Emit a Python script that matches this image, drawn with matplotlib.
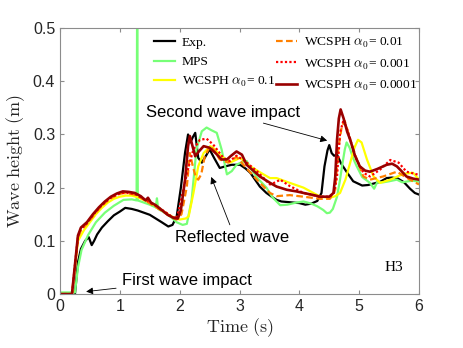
import matplotlib
matplotlib.use("Agg")
import matplotlib.pyplot as plt

plt.rcParams['mathtext.fontset'] = 'cm'

# Exp.
t_exp = [0.25, 0.3, 0.35, 0.42, 0.48, 0.53, 0.57, 0.62, 0.7, 0.8, 0.9, 1.0, 1.09, 1.2, 1.3, 1.4, 1.5, 1.6, 1.7, 1.81,
         1.88, 1.95, 2.02, 2.09, 2.14, 2.18, 2.22, 2.26, 2.31, 2.37, 2.44, 2.5, 2.58, 2.67, 2.76, 2.87, 3.01, 3.1,
         3.18, 3.26, 3.34, 3.45, 3.55, 3.62, 3.7, 3.8, 3.9, 4.0, 4.1, 4.2, 4.3, 4.37, 4.42, 4.47, 4.5, 4.54, 4.58,
         4.63, 4.7, 4.8, 4.9, 5.05, 5.15, 5.25, 5.35, 5.46, 5.55, 5.65, 5.75, 5.85, 5.93, 6.0]
h_exp = [0.0, 0.06, 0.085, 0.1, 0.107, 0.092, 0.1, 0.112, 0.125, 0.137, 0.148, 0.155, 0.162, 0.16, 0.157, 0.153,
         0.149, 0.142, 0.135, 0.127, 0.13, 0.146, 0.2, 0.266, 0.3, 0.285, 0.295, 0.303, 0.256, 0.247, 0.26, 0.272,
         0.255, 0.237, 0.24, 0.243, 0.243, 0.236, 0.228, 0.215, 0.202, 0.19, 0.182, 0.177, 0.174, 0.173, 0.172,
         0.171, 0.168, 0.17, 0.175, 0.19, 0.24, 0.27, 0.28, 0.265, 0.26, 0.262, 0.245, 0.228, 0.212, 0.204, 0.205,
         0.208, 0.211, 0.218, 0.219, 0.217, 0.21, 0.198, 0.19, 0.187]

# MPS
t_mps = [0, 0.25, 0.3, 0.36, 0.47, 0.6, 0.75, 0.9, 1.06, 1.2, 1.28, 1.29, 1.3, 1.4, 1.5, 1.6, 1.62, 1.64, 1.75,
         1.85, 1.95, 2.05, 2.12, 2.2, 2.28, 2.37, 2.45, 2.53, 2.62, 2.7, 2.79, 2.87, 2.95, 3.04, 3.12, 3.2, 3.3,
         3.45, 3.55, 3.68, 3.8, 3.95, 4.07, 4.2, 4.3, 4.4, 4.46, 4.51, 4.56, 4.63, 4.68, 4.72, 4.76, 4.79, 4.84,
         4.9, 4.96, 5.05, 5.18, 5.25, 5.3, 5.4, 5.5, 5.63, 5.72, 5.82, 5.9, 6.0]
h_mps = [0.003, 0.003, 0.05, 0.083, 0.111, 0.135, 0.153, 0.166, 0.177, 0.178, 0.176, 0.6, 0.176, 0.172, 0.168,
         0.163, 0.18, 0.16, 0.153, 0.145, 0.135, 0.13, 0.132, 0.177, 0.272, 0.306, 0.313, 0.308, 0.303, 0.272,
         0.225, 0.231, 0.243, 0.248, 0.25, 0.234, 0.218, 0.2, 0.182, 0.167, 0.168, 0.172, 0.174, 0.17, 0.165, 0.158,
         0.152, 0.153, 0.16, 0.183, 0.215, 0.245, 0.272, 0.285, 0.275, 0.255, 0.24, 0.22, 0.209, 0.198, 0.21,
         0.21, 0.212, 0.215, 0.21, 0.212, 0.213, 0.211]

# WCSPH alpha0 = 0.1
t_a1 = [0, 0.2, 0.25, 0.3, 0.4, 0.5, 0.6, 0.7, 0.8, 0.9, 1.0, 1.1, 1.2, 1.3, 1.4, 1.5, 1.6, 1.7, 1.8, 1.9, 2.0,
        2.1, 2.15, 2.23, 2.31, 2.4, 2.51, 2.56, 2.67, 2.84, 3.01, 3.18, 3.4, 3.51, 3.62, 3.84, 4.07, 4.35, 4.51,
        4.6, 4.68, 4.77, 4.85, 4.92, 4.98, 5.04, 5.13, 5.24, 5.35, 5.52, 5.74, 5.9, 6.0]
h_a1 = [0, 0, 0.05, 0.1, 0.12, 0.135, 0.15, 0.162, 0.172, 0.179, 0.183, 0.185, 0.185, 0.182, 0.177, 0.172,
        0.166, 0.158, 0.15, 0.144, 0.14, 0.142, 0.146, 0.19, 0.24, 0.265, 0.278, 0.275, 0.262, 0.247, 0.256,
        0.24, 0.225, 0.218, 0.218, 0.209, 0.2, 0.183, 0.181, 0.184, 0.19, 0.215, 0.247, 0.275, 0.29, 0.285,
        0.253, 0.221, 0.209, 0.215, 0.226, 0.228, 0.215]

# WCSPH alpha0 = 0.01
t_a2 = [0, 0.2, 0.3, 0.35, 0.45, 0.55, 0.65, 0.75, 0.85, 0.95, 1.05, 1.15, 1.25, 1.35, 1.45, 1.55, 1.65, 1.75,
        1.85, 1.95, 2.03, 2.12, 2.17, 2.22, 2.27, 2.31, 2.36, 2.42, 2.51, 2.58, 2.67, 2.81, 2.95, 3.12, 3.34,
        3.51, 3.62, 3.84, 4.07, 4.35, 4.51, 4.6, 4.65, 4.71, 4.76, 4.85, 4.96, 5.07, 5.18, 5.4, 5.63, 5.85, 6.0]
h_a2 = [0, 0, 0.105, 0.12, 0.132, 0.146, 0.16, 0.171, 0.18, 0.186, 0.19, 0.189, 0.187, 0.181, 0.174, 0.167,
        0.16, 0.153, 0.145, 0.14, 0.15, 0.202, 0.265, 0.24, 0.22, 0.215, 0.225, 0.259, 0.278, 0.27, 0.253, 0.247,
        0.258, 0.236, 0.209, 0.19, 0.184, 0.186, 0.183, 0.179, 0.179, 0.196, 0.272, 0.316, 0.325, 0.29, 0.253,
        0.221, 0.215, 0.221, 0.23, 0.215, 0.206]

# WCSPH alpha0 = 0.001
t_a3 = [0, 0.2, 0.3, 0.35, 0.45, 0.55, 0.65, 0.75, 0.85, 0.95, 1.05, 1.15, 1.25, 1.35, 1.45, 1.55, 1.65, 1.75,
        1.85, 1.95, 2.0, 2.06, 2.15, 2.23, 2.34, 2.45, 2.56, 2.73, 2.84, 2.95, 3.09, 3.29, 3.51, 3.6, 3.68, 3.84,
        4.07, 4.35, 4.51, 4.58, 4.63, 4.68, 4.74, 4.82, 4.93, 5.07, 5.18, 5.35, 5.52, 5.66, 5.79, 6.0]
h_a3 = [0, 0, 0.108, 0.122, 0.133, 0.148, 0.161, 0.172, 0.181, 0.187, 0.19, 0.19, 0.188, 0.182, 0.176, 0.169,
        0.162, 0.155, 0.147, 0.142, 0.165, 0.196, 0.24, 0.272, 0.29, 0.292, 0.281, 0.256, 0.25, 0.26, 0.25, 0.231,
        0.206, 0.21, 0.215, 0.203, 0.19, 0.183, 0.183, 0.19, 0.221, 0.303, 0.328, 0.303, 0.259, 0.228, 0.221,
        0.234, 0.252, 0.247, 0.23, 0.224]

# WCSPH alpha0 = 0.0001
t_a4 = [0, 0.2, 0.3, 0.35, 0.45, 0.55, 0.65, 0.75, 0.85, 0.95, 1.05, 1.15, 1.25, 1.35, 1.43, 1.47, 1.52, 1.6,
        1.7, 1.8, 1.9, 1.97, 2.02, 2.09, 2.14, 2.17, 2.21, 2.26, 2.32, 2.4, 2.5, 2.6, 2.7, 2.79, 2.86, 2.95,
        3.04, 3.12, 3.2, 3.34, 3.51, 3.62, 3.79, 3.95, 4.07, 4.2, 4.35, 4.5, 4.57, 4.6, 4.63, 4.66, 4.69, 4.74,
        4.8, 4.85, 4.93, 5.01, 5.1, 5.18, 5.3, 5.4, 5.46, 5.55, 5.63, 5.7, 5.79, 5.9, 6.0]
h_a4 = [0, 0, 0.11, 0.125, 0.135, 0.15, 0.163, 0.174, 0.183, 0.189, 0.193, 0.192, 0.19, 0.184, 0.176, 0.181,
        0.172, 0.167, 0.158, 0.149, 0.143, 0.142, 0.158, 0.215, 0.278, 0.297, 0.28, 0.259, 0.268, 0.278, 0.275,
        0.265, 0.253, 0.253, 0.26, 0.268, 0.262, 0.243, 0.235, 0.221, 0.209, 0.202, 0.196, 0.193, 0.19, 0.187,
        0.183, 0.183, 0.19, 0.22, 0.29, 0.33, 0.347, 0.33, 0.305, 0.29, 0.26, 0.24, 0.232, 0.23, 0.235, 0.24,
        0.243, 0.245, 0.24, 0.232, 0.221, 0.217, 0.215]

fig = plt.figure(figsize=(4.63, 3.48), dpi=100)
ax = fig.add_axes([0.1296, 0.155, 0.7754, 0.7644])

ax.plot(t_exp, h_exp, color='black', lw=1.6, label='Exp.')
ax.plot(t_mps, h_mps, color='#77ff77', lw=1.6, label='MPS')
ax.plot(t_a1, h_a1, color='#ffff00', lw=1.6, label=r'WCSPH $\alpha_0$= 0.1')
ax.plot(t_a2, h_a2, color='#ff8000', lw=1.6, ls=(0, (3, 1.5)), label=r'WCSPH $\alpha_0$= 0.01')
ax.plot(t_a3, h_a3, color='#ff0000', lw=1.6, ls=(0, (1, 1)), label=r'WCSPH $\alpha_0$= 0.001')
ax.plot(t_a4, h_a4, color='#990000', lw=1.9, label=r'WCSPH $\alpha_0$= 0.0001')

ax.set_xlim(0, 6)
ax.set_ylim(0, 0.5)
ax.set_xticks([0, 1, 2, 3, 4, 5, 6])
ax.set_yticks([0, 0.1, 0.2, 0.3, 0.4, 0.5])
ax.set_yticklabels(['0', '0.1', '0.2', '0.3', '0.4', '0.5'])
ax.tick_params(direction='in', top=True, right=True, length=3, color='#8c8c8c',
               labelsize=11.5, labelcolor='#262626')
for lab in ax.get_xticklabels() + ax.get_yticklabels():
    lab.set_family('Liberation Sans')
for s in ax.spines.values():
    s.set_color('#8c8c8c')
    s.set_linewidth(0.8)

ax.set_xlabel(r'$\mathrm{Time\ (s)}$', fontsize=13, color='#262626', labelpad=2)
ax.set_ylabel(r'$\mathrm{Wave\ height\ (m)}$', fontsize=13, color='#262626', labelpad=4)

leg = ax.legend(ncol=2, frameon=False, loc='upper right', bbox_to_anchor=(1.03, 1.015),
                prop={'family': 'Liberation Serif', 'size': 9.7},
                handlelength=1.55, handletextpad=0.55, columnspacing=0.05, labelspacing=0.5)

ann = dict(arrowstyle='-|>', color='black', lw=0.6, mutation_scale=10)
ax.annotate('Second wave impact', xy=(4.51, 0.287), xytext=(1.44, 0.342), fontsize=12,
            family='Liberation Sans', va='center', ha='left', arrowprops=ann)
ax.annotate('Reflected wave', xy=(2.51, 0.225), xytext=(1.92, 0.106), fontsize=12,
            family='Liberation Sans', va='center', ha='left',
            arrowprops=dict(ann, relpos=(0.5, 1.0)))
ax.annotate('First wave impact', xy=(0.39, 0.004), xytext=(1.03, 0.026), fontsize=12,
            family='Liberation Sans', va='center', ha='left', arrowprops=ann)
ax.text(5.58, 0.05, 'H3', fontsize=11, family='Liberation Serif', ha='center', va='center')

fig.savefig('out.png', dpi=100)
